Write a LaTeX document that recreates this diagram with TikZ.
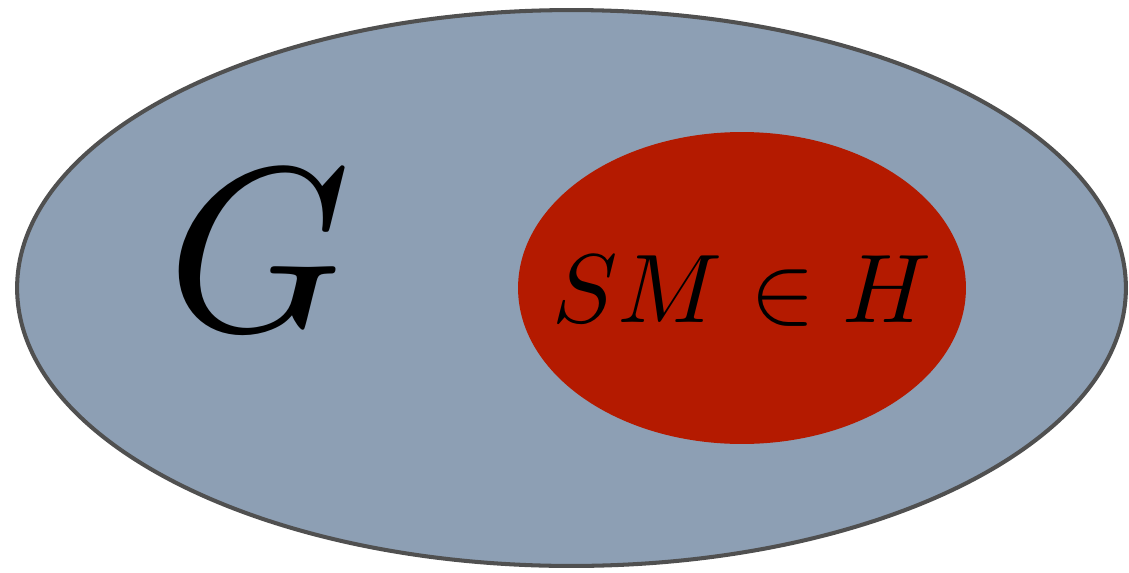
\documentclass[tikz,border=0pt]{standalone}
\usetikzlibrary{shapes.geometric}

\definecolor{gcol}{RGB}{141,159,180}
\definecolor{hcol}{RGB}{180,26,0}
\definecolor{edgecol}{RGB}{80,80,80}

\begin{document}
\begin{tikzpicture}[x=0.02cm, y=-0.02cm,
          set/.style={ellipse, inner sep=0},
          lbl/.style={inner sep=0, anchor=base, text=black}
        ]
        \useasboundingbox (0,0) rectangle (1129,572);

        % ---- the group G ----
        \node[set, fill=gcol, draw=edgecol, line width=2.3pt,
              minimum width=22.18cm, minimum height=11.12cm] (grp) at (571.5,288) {};

        % ---- the subgroup H ----
        \node[set, fill=hcol, minimum width=8.96cm, minimum height=6.24cm] (sub) at (742,288) {};

        % ---- labels ----
        \node[lbl, scale=13.3] (glabel) at (259,330) {$G$};
        \node[lbl, scale=5.55] (hlabel) at (742,322) {$SM \in H$};

      \end{tikzpicture}
\end{document}
